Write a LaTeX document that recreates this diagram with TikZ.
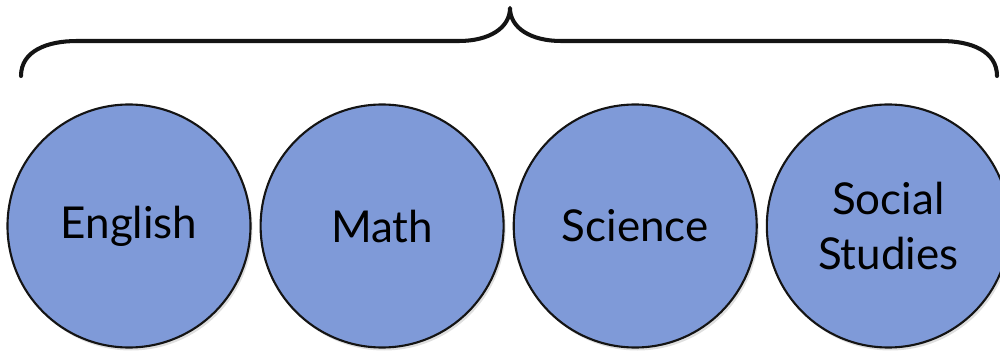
\documentclass[tikz,border=0pt]{standalone}
\usepackage{fontspec}
\setmainfont{Lato}
\usepackage{xcolor}
\definecolor{subj-blue}{RGB}{127,154,216}
\definecolor{subj-dark}{RGB}{20,20,20}
\usepackage{tikz}
\usetikzlibrary{positioning, calc, shadows}

\begin{document}
\begin{tikzpicture}[
    node distance=0.16cm,
    subject/.style={circle, draw=subj-dark, line width=1.2pt, fill=subj-blue, minimum size=4.86cm, inner sep=0pt, align=center, font=\fontsize{25}{31}\selectfont, drop shadow={opacity=0.25, shadow xshift=0.04cm, shadow yshift=-0.06cm}},
    brace/.style={line width=2.3pt, color=subj-dark, line cap=round, line join=round}
]
    \useasboundingbox (0,0) rectangle (20,7.04);

    % Disciplinas
    \node[subject] (eng) at (2.58,2.52) {English};
    \node[subject, right=of eng] (math) {Math};
    \node[subject, right=of math] (sci) {Science};
    \node[subject, right=of sci] (soc) {Social\\Studies};

    % Chave
    \coordinate (bl) at (0.42,5.52);
    \coordinate (br) at (19.94,5.52);
    \coordinate (tip) at (10.2,6.88);
    \draw[brace] (bl) .. controls +(0,0.5) and +(-0.6,0) .. ++(1.12,0.7)
        -- ($(tip)+(-1.02,-0.66)$) .. controls +(0.6,0) and +(0,-0.4) .. (tip)
        .. controls +(0,-0.4) and +(-0.6,0) .. ++(1.02,-0.66)
        -- ($(br)+(-1.12,0.7)$) .. controls +(0.6,0) and +(0,0.5) .. (br);
\end{tikzpicture}
\end{document}
